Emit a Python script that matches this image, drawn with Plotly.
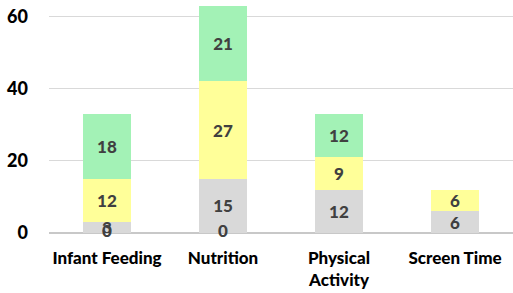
import plotly.graph_objects as go

categories = ["Infant Feeding", "Nutrition", "Physical<br>Activity", "Screen Time"]
series_zero = [0, 0, None, None]
series_grey = [3, 15, 12, 6]
series_yellow = [12, 27, 9, 6]
series_green = [18, 21, 12, None]
y_ticks = [0, 20, 40, 60]

FONT = "Lato"
LABEL_COLOR = "#404040"
FS = 17

fig = go.Figure()
for vals, color in [(series_grey, "#d9d9d9"), (series_yellow, "#ffff99"), (series_green, "#a3f2b6")]:
    fig.add_trace(go.Bar(
        x=categories, y=vals, marker=dict(color=color, line=dict(width=0)),
        text=[("" if v is None else str(v)) for v in vals],
        textposition="inside", insidetextanchor="middle", textangle=0,
        textfont=dict(family=FONT, size=FS, color=LABEL_COLOR, weight=900),
        width=0.41, showlegend=False, hoverinfo="skip",
    ))

fig.add_trace(go.Scatter(
    x=[c for c, v in zip(categories, series_zero) if v is not None],
    y=[v for v in series_zero if v is not None],
    text=[str(v) for v in series_zero if v is not None],
    mode="text", textposition="middle center",
    textfont=dict(family=FONT, size=FS, color=LABEL_COLOR, weight=900),
    showlegend=False, hoverinfo="skip", cliponaxis=False,
))

fig.update_layout(
    barmode="stack",
    width=513, height=293,
    margin=dict(l=49, r=0, t=5, b=60),
    paper_bgcolor="white", plot_bgcolor="white",
    uniformtext=dict(minsize=FS, mode="show"),
    font=dict(family=FONT, size=FS, color="#000000"),
)
fig.update_xaxes(
    range=[-0.5, 3.5], showgrid=False, showline=False, ticks="", automargin=False,
    tickfont=dict(family=FONT, size=FS, color="#000000", weight=900),
    ticklabelstandoff=13,
)
fig.update_yaxes(
    range=[0, 63.2], tickvals=y_ticks, showgrid=True, gridcolor="#d9d9d9", gridwidth=1,
    zeroline=True, zerolinecolor="#c8c8c8", zerolinewidth=2, showline=False, ticks="",
    automargin=False,
    tickfont=dict(family=FONT, size=18, color="#000000", weight=900),
    ticklabelstandoff=20,
)

fig.write_html("out.html", config={"displayModeBar": False},
               post_script="document.body.style.margin='0';")
